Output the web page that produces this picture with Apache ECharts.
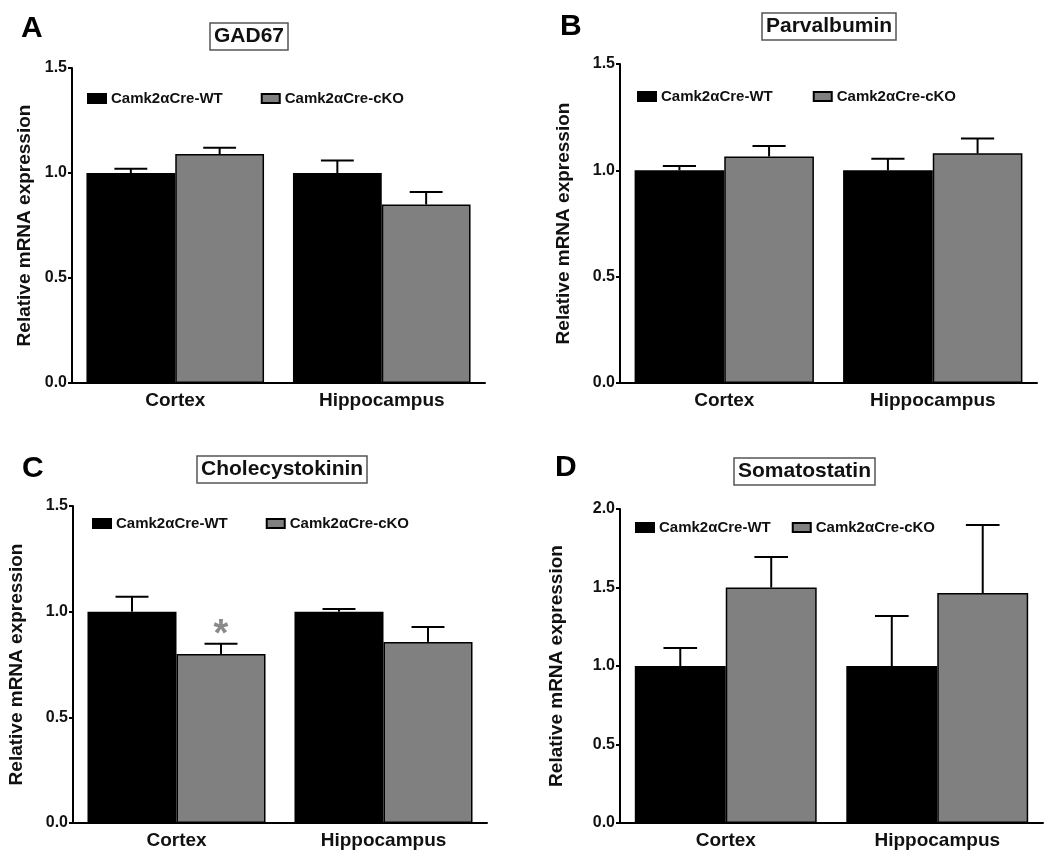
<!DOCTYPE html>
<html lang="en">
<head>
    <meta charset="UTF-8">
    <title>Relative mRNA expression</title>
    <script src="https://cdn.jsdelivr.net/npm/echarts@6/dist/echarts.min.js"></script>
    <style>
        html, body { margin: 0; padding: 0; background: #fff; }
        #myChart { width: 1050px; height: 860px; }
    </style>
</head>
<body>
<div id="myChart"></div>
<script type="text/javascript">
    var categories = ["Cortex", "Hippocampus"];
    var seriesNames = ["Camk2\u03b1Cre-WT", "Camk2\u03b1Cre-cKO"];

    // A - GAD67
    var gadWT = [1.00, 1.00];
    var gadWTErr = [0.02, 0.06];
    var gadKO = [1.09, 0.85];
    var gadKOErr = [0.03, 0.06];

    // B - Parvalbumin
    var pvWT = [1.00, 1.00];
    var pvWTErr = [0.02, 0.055];
    var pvKO = [1.065, 1.08];
    var pvKOErr = [0.05, 0.07];

    // C - Cholecystokinin
    var cckWT = [1.00, 1.00];
    var cckWTErr = [0.07, 0.013];
    var cckKO = [0.80, 0.857];
    var cckKOErr = [0.048, 0.07];
    var cckKOSig = ["*", ""];

    // D - Somatostatin
    var sstWT = [1.00, 1.00];
    var sstWTErr = [0.115, 0.318];
    var sstKO = [1.50, 1.465];
    var sstKOErr = [0.195, 0.433];

    var yTicks15 = [0, 1.5];
    var yTicks20 = [0, 2.0];

    var FONT = "'Liberation Sans', Arial, sans-serif";
    var GAP = 0.14;
    var GRAY = "#808080";

    var panels = [
        {letter: "A", title: "GAD67", wt: gadWT, wtErr: gadWTErr, ko: gadKO, koErr: gadKOErr, sig: null, range: yTicks15,
            grid: {left: 72, top: 68, width: 413, height: 315}, letterPos: [21, 14], titlePos: [210, 23],
            legendPos: [87, 91], legendGap: 38, nameGap: 38},
        {letter: "B", title: "Parvalbumin", wt: pvWT, wtErr: pvWTErr, ko: pvKO, koErr: pvKOErr, sig: null, range: yTicks15,
            grid: {left: 620, top: 64, width: 417, height: 319}, letterPos: [560, 12], titlePos: [762, 13],
            legendPos: [637, 89], legendGap: 40, nameGap: 47},
        {letter: "C", title: "Cholecystokinin", wt: cckWT, wtErr: cckWTErr, ko: cckKO, koErr: cckKOErr, sig: cckKOSig, range: yTicks15,
            grid: {left: 73, top: 506, width: 414, height: 317}, letterPos: [22, 454], titlePos: [197, 456],
            legendPos: [92, 516], legendGap: 38, nameGap: 47},
        {letter: "D", title: "Somatostatin", wt: sstWT, wtErr: sstWTErr, ko: sstKO, koErr: sstKOErr, sig: null, range: yTicks20,
            grid: {left: 620, top: 509, width: 423, height: 314}, letterPos: [555, 453], titlePos: [734, 458],
            legendPos: [635, 520], legendGap: 21, nameGap: 54}
    ];

    function errorSeries(idx, means, errs, side, sig) {
        var data = [];
        for (var i = 0; i < means.length; i++) {
            data.push([i, means[i], means[i] + errs[i]]);
        }
        return {
            type: "custom",
            xAxisIndex: idx,
            yAxisIndex: idx,
            z: 10,
            silent: true,
            data: data,
            renderItem: function (params, api) {
                var base = api.coord([api.value(0), api.value(1)]);
                var top = api.coord([api.value(0), api.value(2)]);
                var band = api.size([1, 0])[0];
                var bw = band * (1 - GAP) / 2;
                var x = base[0] + side * bw / 2;
                var cap = bw * 0.37;
                var children = [
                    {type: "line", shape: {x1: x, y1: base[1], x2: x, y2: top[1]}, style: {stroke: "#000", lineWidth: 2}},
                    {type: "line", shape: {x1: x - cap / 2, y1: top[1], x2: x + cap / 2, y2: top[1]}, style: {stroke: "#000", lineWidth: 2}}
                ];
                // significance mark above the error bar
                if (sig && sig[params.dataIndex]) {
                    children.push({
                        type: "text",
                        style: {
                            text: sig[params.dataIndex], x: x, y: top[1] + 11,
                            textAlign: "center", textVerticalAlign: "bottom",
                            font: "bold 38px " + FONT, fill: "#8a8a8a"
                        }
                    });
                }
                return {type: "group", children: children};
            }
        };
    }

    var option = {
        animation: false,
        backgroundColor: "#fff",
        textStyle: {fontFamily: FONT},
        title: [],
        legend: [],
        grid: [],
        xAxis: [],
        yAxis: [],
        series: []
    };

    for (var p = 0; p < panels.length; p++) {
        var pn = panels[p];
        option.grid.push(pn.grid);
        option.title.push({
            text: pn.letter, left: pn.letterPos[0], top: pn.letterPos[1], padding: 0,
            textStyle: {fontFamily: FONT, fontSize: 30, fontWeight: "bold", color: "#000"}
        });
        option.title.push({
            text: pn.title, left: pn.titlePos[0], top: pn.titlePos[1], padding: [3, 4],
            borderColor: "#555", borderWidth: 1.5,
            textStyle: {fontFamily: FONT, fontSize: 21, fontWeight: "bold", color: "#111"}
        });
        option.legend.push({
            left: pn.legendPos[0], top: pn.legendPos[1], padding: 0,
            itemGap: pn.legendGap, itemWidth: 18, itemHeight: 9, icon: "rect",
            data: seriesNames, selectedMode: false,
            textStyle: {fontFamily: FONT, fontSize: 15, fontWeight: "bold", color: "#111"}
        });
        option.xAxis.push({
            type: "category", gridIndex: p, data: categories,
            axisLine: {lineStyle: {color: "#000", width: 2}},
            axisTick: {alignWithLabel: true, length: 5, lineStyle: {color: "#000", width: 2}},
            axisLabel: {margin: 8, fontFamily: FONT, fontSize: 19, fontWeight: "bold", color: "#111"}
        });
        option.yAxis.push({
            type: "value", gridIndex: p, min: pn.range[0], max: pn.range[1], interval: 0.5,
            name: "Relative mRNA expression", nameLocation: "middle", nameGap: pn.nameGap,
            nameTextStyle: {fontFamily: FONT, fontSize: 19, fontWeight: "bold", color: "#111"},
            axisLine: {show: true, lineStyle: {color: "#000", width: 2}},
            axisTick: {show: true, length: 4, lineStyle: {color: "#000", width: 2}},
            splitLine: {show: false},
            axisLabel: {
                margin: 5, fontFamily: FONT, fontSize: 16, fontWeight: "bold", color: "#111",
                formatter: function (v) { return v.toFixed(1); }
            }
        });
        option.series.push({
            name: seriesNames[0], type: "bar", xAxisIndex: p, yAxisIndex: p, data: pn.wt,
            barGap: "0%", barCategoryGap: (GAP * 100) + "%",
            itemStyle: {color: "#000", borderColor: "#000", borderWidth: 1.5}
        });
        option.series.push({
            name: seriesNames[1], type: "bar", xAxisIndex: p, yAxisIndex: p, data: pn.ko,
            barGap: "0%", barCategoryGap: (GAP * 100) + "%",
            itemStyle: {color: GRAY, borderColor: "#000", borderWidth: 1.5}
        });
        option.series.push(errorSeries(p, pn.wt, pn.wtErr, -1, null));
        option.series.push(errorSeries(p, pn.ko, pn.koErr, 1, pn.sig));
    }

    var myChart = echarts.init(document.getElementById("myChart"));
    myChart.setOption(option);
</script>
</body>
</html>
